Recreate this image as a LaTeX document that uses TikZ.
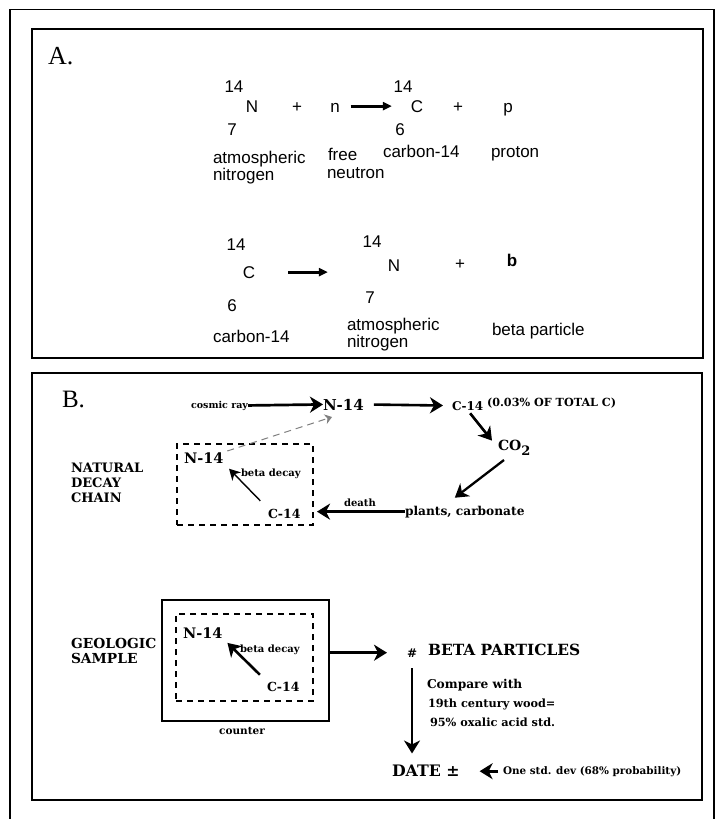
\documentclass[tikz,border=0pt]{standalone}
\usepackage{fontspec}
\setmainfont{DejaVu Serif}
\newfontfamily\arialf{Liberation Sans}
\newfontfamily\timesf{Liberation Serif}
\usetikzlibrary{arrows.meta,calc}
\newcommand\myfs[1]{\fontsize{#1}{#1}\selectfont}
\begin{document}
\begin{tikzpicture}[x=1pt,y=-1pt,
  every node/.style={inner sep=0pt, outer sep=0pt},
  eqA/.style={font=\arialf\myfs{17}, anchor=base},
  lblA/.style={font=\arialf\fontsize{17}{17}\selectfont, anchor=base west, align=left},
  arrA/.style={line width=3.2pt, -{Triangle[length=9pt,width=8pt]}},
  tb/.style={font=\bfseries\myfs{#1}, anchor=base west},
  frame/.style={line width=1.6pt},
  panel/.style={line width=1.8pt},
  dbox/.style={draw, line width=1.4pt, dash pattern=on 6pt off 5pt},
  arrB/.style={line width=#1, -{Stealth[length=13pt,width=16pt,inset=4pt]}},
  arrB/.default=2.6pt,
]
\fill[white] (0,0) rectangle (718,819);
\useasboundingbox (0,0) rectangle (718,819);

% frames
\draw[frame] (10,819) -- (10,9.5) -- (714,9.5) -- (714,819);
\draw[panel] (32,29) rectangle (703,358);
\draw[panel] (32,373) rectangle (702,800);

% ---------- Panel A ----------
\node[font=\timesf\myfs{26}, anchor=base west] (labA) at (48,64) {A.};

\node[eqA] (ma1) at (234,92) {14};
\node[eqA] (Na) at (252,112) {N};
\node[eqA] (za1) at (232,135) {7};
\node[eqA] (pl1) at (297,112) {+};
\node[eqA] (nn) at (335,112) {n};
\node[eqA] (ma2) at (403,92) {14};
\node[eqA] (Ca) at (417,112) {C};
\node[eqA] (za2) at (400,135) {6};
\node[eqA] (pl2) at (458,112) {+};
\node[eqA] (pp) at (508,112) {p};
\draw[arrA, shorten <=11pt, shorten >=19pt] (nn.east |- Ca.center) -- (Ca.west);

\node[lblA] (atm1) at (213,180) {atmospheric\\nitrogen};
\node[lblA] (free) at (328,160) {free};
\node[lblA] (neut) at (327,178) {neutron};
\node[lblA] (carb1) at (383,157) {carbon-14};
\node[lblA] (prot) at (491,157) {proton};

\node[eqA] (mb1) at (236,250) {14};
\node[eqA] (Cb) at (249,278) {C};
\node[eqA] (zb1) at (232,311) {6};
\node[eqA] (mb2) at (372,247) {14};
\node[eqA] (Nb) at (394,271) {N};
\node[eqA] (zb2) at (370,303) {7};
\node[eqA] (pl3) at (460,269) {+};
\node[eqA, font=\arialf\bfseries\myfs{17}] (bb) at (512,266) {b};
\draw[arrA, shorten <=33pt, shorten >=60pt] (Cb.east) -- (Nb.west |- Cb.east);

\node[lblA] (carb2) at (213,342) {carbon-14};
\node[lblA] (atm2) at (347,347) {atmospheric\\nitrogen};
\node[lblA] (betap) at (492,335) {beta particle};

% ---------- Panel B ----------
\node[font=\timesf\myfs{25}, anchor=base west] (labB) at (62,407) {B.};

\node[tb=9.5, anchor=base east] (cosmic) at (248,408) {cosmic ray};
\node[tb=15] (N14t) at (323,410) {N-14};
\node[tb=12] (C14t) at (452,410) {C-14};
\node[tb=11.2] (pct) at (487,406) {(0.03\% OF TOTAL C)};
\node[tb=14] (CO2) at (498,450) {CO\raisebox{-5pt}{\myfs{13}2}};
\node[tb=12.2] (plants) at (405,515) {plants, carbonate};

\draw[arrB=2.7pt] (cosmic.east) -- (N14t.west);
\draw[arrB, shorten <=10pt, shorten >=9pt] (N14t.east) -- (C14t.west);
\draw[arrB, shorten <=4pt] (C14t.south) -- ($(CO2.north west)+(-6,1)$);
\draw[arrB=2.3pt] ($(CO2.south west)+(6,5)$) -- ($(plants.north)+(-10,-8)$);

\node[dbox, minimum width=136pt, minimum height=81pt] (box1) at (245,484.5) {};
\node[tb=14.5] (N14b) at (184,463) {N-14};
\node[tb=10] (bd1) at (241,476) {beta decay};
\node[tb=12.5] (C14b) at (268,518) {C-14};
\draw[line width=1.4pt, -{Stealth[length=11pt,width=12pt,inset=3.5pt]}, shorten <=11pt, shorten >=8pt] (C14b.north west) -- (N14b.south east);
\draw[arrB=3pt, shorten >=4pt] (plants.west) -- (box1.east |- plants.west);
\node[tb=10, anchor=base] (death) at (360,506) {death};
\draw[gray, line width=1pt, dash pattern=on 7pt off 5pt, -{Stealth[length=7pt,width=10pt]}, shorten <=4pt] (N14b.north east) -- ($(N14t.south west)+(9,7)$);

\node[tb=13, align=left, font=\bfseries\fontsize{13}{15}\selectfont] (ndc) at (71,502) {NATURAL\\DECAY\\CHAIN};

% geologic sample
\node[draw, line width=1.5pt, minimum width=167pt, minimum height=121pt] (ctr) at (245.5,660.5) {};
\node[dbox, minimum width=137pt, minimum height=87pt] (box2) at (244.5,657.5) {};
\node[tb=14.5] (N14c) at (183,638) {N-14};
\node[tb=10] (bd2) at (240,652) {beta decay};
\node[tb=12.5] (C14c) at (267,691) {C-14};
\draw[arrB=2.6pt, shorten <=10pt, shorten >=7pt] (C14c.north west) -- (N14c.south east);
\node[tb=13.8, align=left, font=\bfseries\fontsize{13.8}{15}\selectfont] (geo) at (71,663) {GEOLOGIC\\SAMPLE};
\node[tb=10.5, anchor=base] (counter) at (242,734) {counter};

\node[tb=12] (hash) at (407,657) {\#};
\node[tb=15.4] (betaP) at (428,655) {BETA PARTICLES};
\draw[arrB=3.2pt, shorten >=20pt] (ctr.east |- hash.center) -- (hash.west);

\node[tb=12.2] (cmp1) at (427,688) {Compare with};
\node[tb=11.3] (cmp2) at (428,707) {19th century wood=};
\node[tb=11.3] (cmp3) at (430,726) {95\% oxalic acid std.};

\node[tb=15.8] (date) at (392,776) {DATE ±};
\draw[arrB=2.2pt, shorten <=11pt, shorten >=11pt] (hash.south) -- (hash.south |- date.north);
\node[tb=10.4] (std) at (503,774) {One std. dev (68\% probability)};
\draw[arrB=2.6pt, shorten <=5pt, shorten >=20pt] (std.west) -- (date.east |- std.west);
\end{tikzpicture}
\end{document}
